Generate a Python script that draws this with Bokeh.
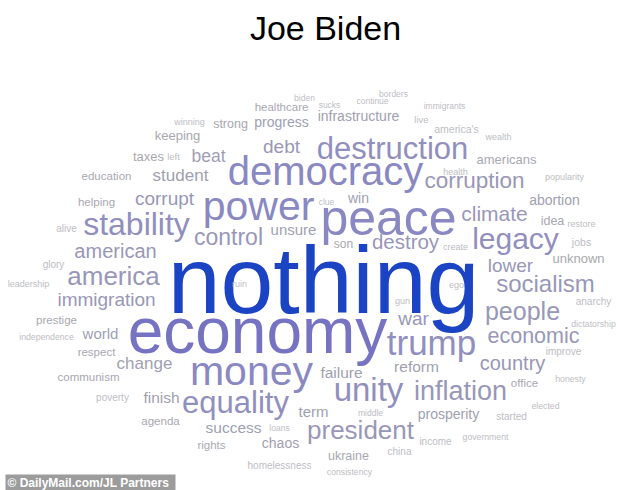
from bokeh.plotting import figure
from bokeh.models import Range1d, ColumnDataSource
from bokeh.embed import file_html
from bokeh.resources import INLINE
from bokeh.core.properties import value

# ---- data: words and their weights (weight ~ font size in px) ----
title_text = "Joe Biden"
credit_text = "\u00a9 DailyMail.com/JL Partners"

words = ["nothing", "economy", "peace", "democracy", "power", "money", "destruction", "trump",
         "stability", "equality", "unity", "legacy", "inflation", "president", "america", "people",
         "socialism", "control", "corruption", "economic", "climate", "destroy", "american", "country",
         "debt", "war", "lower", "corrupt", "immigration", "beat", "change", "student",
         "failure", "reform", "success", "finish", "world", "unsure", "term", "abortion",
         "infrastructure", "progress", "prosperity", "chaos", "win", "keeping", "americans", "unknown",
         "taxes", "strong", "idea", "ukraine", "son", "respect", "healthcare", "education",
         "helping", "prestige", "communism", "agenda", "rights", "office", "jobs", "america's",
         "improve", "income", "homelessness", "alive", "glory", "china", "anarchy", "poverty",
         "started", "left", "winning", "live", "leadership", "independence", "create", "ego",
         "ruin", "gun", "health", "popularity", "restore", "wealth", "dictatorship", "honesty",
         "elected", "government", "consistency", "middle", "loans", "clue", "biden", "sucks",
         "continue", "borders", "immigrants"]

weights = [95, 64, 50, 40, 41, 41, 31, 35,
           32, 31, 33, 30, 27, 26, 26, 25,
           24, 23, 22.5, 21.5, 21, 20.5, 20, 20,
           19, 19, 19, 19, 19, 17.5, 17, 17,
           15.5, 15.5, 15.5, 15.5, 15, 15, 15, 14,
           14, 14, 14, 14, 14, 13, 13, 13,
           13, 12.5, 12.5, 12.5, 12, 11.5, 11.5, 11.5,
           11.5, 11.5, 11.5, 11.5, 11.5, 11.5, 10.5, 10.5,
           10, 10, 10, 10, 10, 10, 10, 10,
           10, 9.5, 9, 9.5, 9, 8.7, 9, 9,
           9, 9, 9, 9, 9, 9, 8.7, 8.7,
           8.7, 8.7, 8.7, 8.5, 8.5, 8.5, 8.5, 8.5,
           8.5, 8.5, 8.5]

# ---- layout of the cloud (word centres, page pixels) ----
layout_x = [323, 257, 388, 325, 258, 251, 392, 431,
            136, 235, 368, 515, 460, 360, 113, 522,
            545, 228, 474, 533, 494, 405, 115, 512,
            281, 413, 510, 164, 106, 208, 144, 180,
            341, 416, 233, 161, 100, 293, 313, 554,
            358, 281, 448, 280, 358, 177, 506, 578,
            148, 230, 552, 348, 343, 96, 281, 106,
            96, 56, 88, 160, 211, 524, 581, 456,
            563, 435, 279, 66, 53, 399, 593, 112,
            511, 173, 189, 421, 28, 46, 455, 456,
            239, 402, 455, 564, 581, 498, 593, 570,
            545, 485, 349, 370, 279, 326, 304, 329,
            372, 393, 444]

layout_y = [286, 335, 221, 173, 208, 373, 150, 344,
            226, 404, 391, 240, 392, 431, 277, 312,
            285, 238, 182, 337, 214, 242, 252, 364,
            147, 319, 266, 199, 300, 157, 364, 176,
            373, 367, 428, 398, 334, 230, 412, 200,
            116, 122, 414, 443, 198, 136, 160, 259,
            157, 124, 221, 456, 244, 352, 107, 176,
            202, 320, 377, 421, 445, 383, 242, 129,
            352, 442, 466, 229, 265, 452, 302, 398,
            417, 157, 122, 120, 284, 337, 247, 285,
            284, 301, 172, 177, 224, 137, 324, 379,
            406, 437, 472, 413, 428, 202, 98, 105,
            101, 94, 106]


def colour_for(w):
    if w >= 90:
        return "#1b44c4"
    if w >= 55:
        return "#7673c3"
    if w >= 38:
        return "#8a88c2"
    if w >= 28:
        return "#918fbe"
    if w >= 19:
        return "#9997b8"
    if w >= 14:
        return "#a09fb2"
    if w >= 11:
        return "#a8a8b0"
    return "#bdbdc3"


sizes = [f"{w}px" for w in weights]
colours = [colour_for(w) for w in weights]
# anchor offset so that the x-height centre lands on the layout point
anchor_y = [y - 0.07 * w for y, w in zip(layout_y, weights)]

src = ColumnDataSource(dict(x=layout_x, y=anchor_y, word=words, fs=sizes, col=colours))

W, H = 634, 490
p = figure(width=W, height=H, x_range=Range1d(0, W), y_range=Range1d(H, 0),
           output_backend="svg", toolbar_location=None, min_border=0,
           x_axis_location=None, y_axis_location=None)
p.grid.visible = False
p.outline_line_color = None
p.background_fill_color = "white"

p.text(x="x", y="y", text="word", text_font_size="fs", text_color="col",
       text_align="center", text_baseline="alphabetic", text_line_height=1.0,
       text_font=value("Liberation Sans"), source=src)

# title
p.text(x=[325], y=[27], text=[title_text], text_font_size="34px", text_color="black",
       text_align="center", text_baseline="alphabetic", text_line_height=1.0,
       text_font=value("Liberation Sans"))

# credit box
p.quad(left=[5], right=[175], top=[474], bottom=[490], fill_color="#9c9c9c", line_color=None)
p.text(x=[7], y=[482], text=[credit_text], text_font_size="12px", text_color="white",
       text_font_style="bold", text_align="left", text_baseline="middle", text_line_height=1.0,
       text_font=value("Liberation Sans"))

open("out.html", "w").write(file_html(p, INLINE))
